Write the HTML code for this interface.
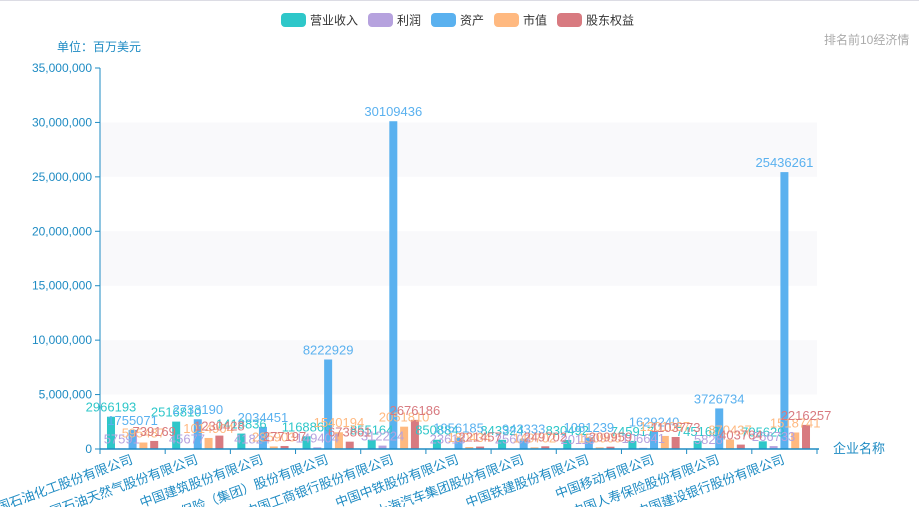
<!DOCTYPE html>
<html><head><meta charset="utf-8"><style>
html,body{margin:0;padding:0;background:#fff;overflow:hidden;width:919px;height:530px;}
svg{display:block;font-family:"Liberation Sans","Noto Sans CJK SC",sans-serif;overflow:hidden;}
</style></head><body>
<svg id="c" width="919" height="530">
<defs><clipPath id="lc"><rect x="0" y="440" width="919" height="67"/></clipPath></defs>
<line x1="0" y1="0.5" x2="919" y2="0.5" stroke="#dcdce4"/>
<g id="labels" clip-path="url(#lc)"></g>
</svg>
<script>
const categories=["国石油化工股份有限公司","中国石油天然气股份有限公司","中国建筑股份有限公司","中国平安保险（集团）股份有限公司","中国工商银行股份有限公司","中国中铁股份有限公司","上海汽车集团股份有限公司","中国铁建股份有限公司","中国移动有限公司","中国人寿保险股份有限公司","中国建设银行股份有限公司"];
const revenue=[2966193,2516810,1418836,1168866,855164,850884,843324,830492,745917,745168,705629];
const profit=[57591,45677,41824,149404,312224,23613,25603,20119,106641,5828,266733];
const assets=[1755071,2733190,2034451,8222929,30109436,1056185,943333,1081239,1629240,3726734,25436261];
const marketCap=[595487,1014904,235903,1540194,2051810,180434,149702,150900,1201087,870437,1518741];
const equity=[739169,1230428,277197,673861,2676186,221457,249702,209959,1103773,403764,2216257];
const seriesNames=["营业收入","利润","资产","市值","股东权益"];
const yTicks=[0,5000000,10000000,15000000,20000000,25000000,30000000,35000000];
const colors=["#2ec7c9","#b6a2de","#5ab1ef","#ffb980","#d87a80"];
const series=[revenue,profit,assets,marketCap,equity];
const NS="http://www.w3.org/2000/svg";
const svg=document.getElementById('c');
const lg=document.getElementById('labels');
const X0=100,X1=817,Y0=449,Y1=68,YMAX=35000000;
const cw=(X1-X0)/categories.length;
function y(v){return Y0-(v/YMAX)*(Y0-Y1);}
function xc(i){return X0+cw*(i+0.5);}
function el(t,a,txt,p){const e=document.createElementNS(NS,t);for(const k in a)e.setAttribute(k,a[k]);if(txt!==undefined)e.textContent=txt;(p||svg).appendChild(e);return e;}
for(let i=0;i<yTicks.length-1;i++){
  if(i%2===1){const r=el('rect',{x:X0,y:y(yTicks[i+1]),width:X1-X0,height:y(yTicks[i])-y(yTicks[i+1]),fill:'#f9f9fb'});
  
  }
}
yTicks.forEach(v=>{
  const t=el('text',{x:92,y:y(v)+4,'text-anchor':'end','font-size':12,fill:'#1e8bc3'},v.toLocaleString('en-US'));
  
  
  const l=el('line',{x1:95,x2:100,y1:y(v),y2:y(v),stroke:'#1e8bc3'});
  
  
});
const ya=el('line',{x1:100,x2:100,y1:Y1,y2:Y0,stroke:'#1e8bc3'});


const bw=8,gap=10.8;
series.forEach((s,si)=>{
  s.forEach((v,i)=>{
    const bx=xc(i)-2*gap+si*gap-bw/2;
    const r=el('rect',{x:bx,y:y(v),width:bw,height:Y0-y(v),fill:colors[si]});
    
    
  });
});
series.forEach((s,si)=>{
  s.forEach((v,i)=>{
    const bx=xc(i)-2*gap+si*gap;
    const t=el('text',{x:bx,y:y(v)-5,'text-anchor':'middle','font-size':13,fill:colors[si]},String(v));
    
    
  });
});
const xa=el('line',{x1:X0,x2:X1+2,y1:Y0,y2:Y0,stroke:'#1e8bc3','stroke-width':1.5});


for(let i=0;i<=categories.length;i++){
  const l=el('line',{x1:X0+cw*i,x2:X0+cw*i,y1:Y0,y2:Y0+5,stroke:'#1e8bc3'});
  
  
}
categories.forEach((c,i)=>{
  const ax=xc(i)+1,ay=Y0+14;
  const t=el('text',{x:ax,y:ay,'text-anchor':'end','font-size':13,fill:'#1e8bc3',transform:`rotate(-20 ${ax} ${ay})`},c,lg);
  
  
});
let lx=281;
seriesNames.forEach((n,i)=>{
  const r=el('rect',{x:lx,y:13,width:25,height:14,rx:4,fill:colors[i]});
  
  
  const t=el('text',{x:lx+29,y:24.5,'font-size':12,fill:'#333'},n);
  
  
  lx+=29+n.length*12+10;
});
</script>
<div style="position:absolute;left:57px;top:38px;font:12px 'Liberation Sans','Noto Sans CJK SC',sans-serif;color:#1e8bc3">单位：百万美元</div>
<div style="position:absolute;left:824px;top:31px;font:12px 'Liberation Sans','Noto Sans CJK SC',sans-serif;color:#aaa">排名前10经济情</div>
<div style="position:absolute;left:833px;top:438px;font:13px 'Liberation Sans','Noto Sans CJK SC',sans-serif;color:#1e8bc3">企业名称</div>
</body></html>
